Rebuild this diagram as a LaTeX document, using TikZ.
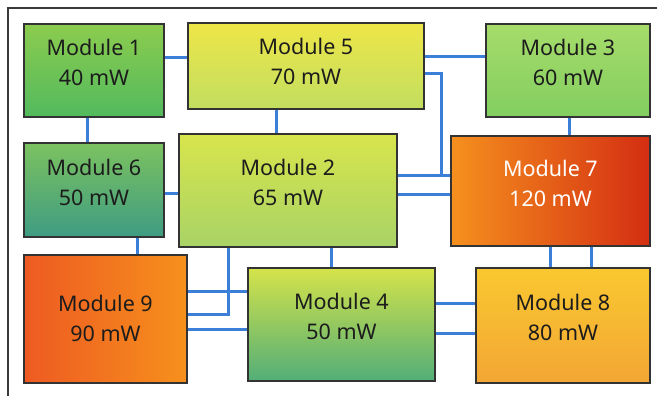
\documentclass[tikz,border=0pt]{standalone}
\usepackage{fontspec}
\setmainfont{Noto Sans}
\usepackage{xcolor}
\usepackage{tikz}
\usetikzlibrary{positioning,calc}
\definecolor{wire}{HTML}{3C7FD8}
\definecolor{frame}{HTML}{3A3A3A}
\definecolor{edge}{HTML}{333333}
\definecolor{txt}{HTML}{1C1C1C}

\begin{document}
\begin{tikzpicture}[x=1pt, y=-1pt,
    module/.style={draw=edge, line width=1.2pt, inner sep=0pt,
                   align=center, text=txt, text depth=16pt,
                   font=\fontsize{21.5}{30}\selectfont},
    link/.style={draw=wire, line width=3pt},
  ]
  \useasboundingbox (0,0) rectangle (657,396);
  % Frame
  \draw[frame, line width=1.6pt] (8,396) -- (8,8) -- (657,8);

  % Top row
  \node[module, top color={rgb,255:red,140;green,204;blue,78}, bottom color={rgb,255:red,82;green,186;blue,94},
        minimum width=140pt, minimum height=93pt] (m1) at (94,70.5) {Module 1\\40 mW};
  \node[module, top color={rgb,255:red,238;green,230;blue,72}, bottom color={rgb,255:red,194;green,222;blue,96},
        text depth=9pt, minimum width=236pt, minimum height=86pt] (m5) at (306,66) {Module 5\\70 mW};
  \node[module, top color={rgb,255:red,166;green,220;blue,106}, bottom color={rgb,255:red,130;green,206;blue,96},
        minimum width=164pt, minimum height=93pt] (m3) at (568,70.5) {Module 3\\60 mW};

  % Middle row
  \node[module, top color={rgb,255:red,124;green,194;blue,96}, bottom color={rgb,255:red,62;green,156;blue,130},
        minimum width=140pt, minimum height=94pt] (m6) at (94,190) {Module 6\\50 mW};
  \node[module, top color={rgb,255:red,216;green,229;blue,76}, bottom color={rgb,255:red,168;green,211;blue,102},
        minimum width=218pt, minimum height=113pt] (m2) at (288,190.5) {Module 2\\65 mW};
  \node[module, left color={rgb,255:red,245;green,144;blue,30}, right color={rgb,255:red,212;green,46;blue,18},
        text=white, minimum width=199pt, minimum height=110pt] (m7) at (550.5,191) {Module 7\\120 mW};

  % Bottom row
  \node[module, left color={rgb,255:red,238;green,90;blue,34}, right color={rgb,255:red,246;green,144;blue,28},
        text depth=2pt, minimum width=163pt, minimum height=128pt] (m9) at (105.5,319) {Module 9\\90 mW};
  \node[module, top color={rgb,255:red,213;green,227;blue,74}, bottom color={rgb,255:red,82;green,174;blue,120},
        minimum width=187pt, minimum height=113pt] (m4) at (341.5,324.5) {Module 4\\50 mW};
  \node[module, top color={rgb,255:red,249;green,200;blue,48}, bottom color={rgb,255:red,243;green,166;blue,52},
        minimum width=174pt, minimum height=115pt] (m8) at (563,325.5) {Module 8\\80 mW};

  % Links
  \foreach \a/\b/\y in {m1/m5/58, m5/m3/57, m6/m2/193, m2/m7/175, m2/m7/194,
                        m9/m4/291, m9/m4/329, m4/m8/303, m4/m8/333}
    \draw[link] (\a.east |- 0,\y) -- (\b.west |- 0,\y);
  \foreach \a/\b/\x in {m1/m6/87, m5/m2/276, m3/m7/569, m6/m9/137,
                        m2/m4/331, m7/m8/550, m7/m8/591}
    \draw[link] (\a.south -| \x,0) -- (\b.north -| \x,0);
  \draw[link] (m5.east |- 0,74) -- ++(17,0) |- (m7.west |- 0,175);
  \draw[link] (m2.south -| 228,0) |- (m9.east |- 0,314);
\end{tikzpicture}
\end{document}
